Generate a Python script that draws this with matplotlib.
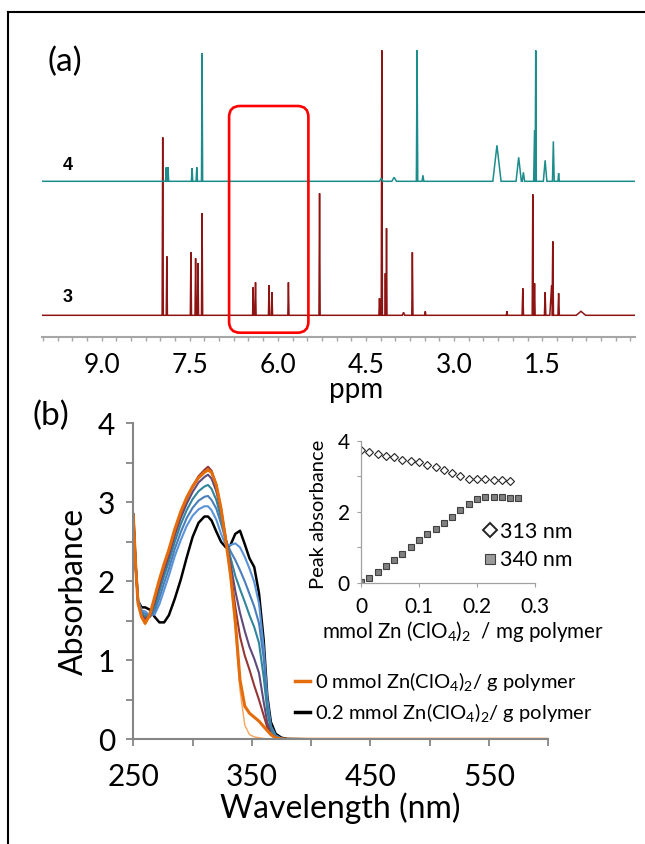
import matplotlib
matplotlib.use("Agg")
import matplotlib.pyplot as plt
from matplotlib.lines import Line2D
from matplotlib.patches import FancyBboxPatch
from matplotlib.ticker import MultipleLocator, FixedLocator
from matplotlib.transforms import IdentityTransform

plt.rcParams['font.family'] = ['Lato', 'DejaVu Sans']
plt.rcParams['mathtext.fontset'] = 'custom'
plt.rcParams['mathtext.rm'] = 'Lato'
plt.rcParams['mathtext.it'] = 'Lato:italic'
plt.rcParams['mathtext.bf'] = 'Lato:bold'

# ---------------- (a) 1H NMR peak lists ----------------
ppm_ticks = [9.0, 7.5, 6.0, 4.5, 3.0, 1.5]
ppm_tick_labels = ["9.0", "7.5", "6.0", "4.5", "3.0", "1.5"]

# compound 3 (dark red)
peaks3_ppm = [7.96, 7.89, 7.48, 7.40, 7.36, 7.29, 6.42, 6.38, 6.15, 6.10, 5.82, 5.29,
              4.27, 4.23, 4.17, 4.15, 3.86, 3.71, 3.49, 2.10, 1.83, 1.66, 1.63, 1.45,
              1.34, 1.32, 1.22, 0.84]
peaks3_int = [178, 59, 63, 57, 52, 102, 28, 33, 30, 23, 33, 122,
              17, 265, 42, 87, 3, 63, 4, 4, 27, 121, 32, 23,
              30, 74, 22, 4]
peaks3_w = [0.01, 0.01, 0.01, 0.01, 0.01, 0.01, 0.01, 0.01, 0.01, 0.01, 0.01, 0.01,
            0.01, 0.01, 0.008, 0.008, 0.02, 0.01, 0.01, 0.01, 0.012, 0.01, 0.01, 0.012,
            0.03, 0.012, 0.012, 0.08]

# compound 4 (teal)
peaks4_ppm = [7.90, 7.87, 7.46, 7.38, 7.29, 4.24, 4.02, 3.63, 3.53, 2.27, 1.90, 1.82,
              1.63, 1.61, 1.45, 1.31, 1.22]
peaks4_int = [14, 14, 13, 14, 128, 3, 4, 131, 6, 36, 24, 9,
              51, 131, 21, 40, 8]
peaks4_w = [0.012, 0.012, 0.012, 0.012, 0.01, 0.03, 0.04, 0.012, 0.015, 0.07, 0.045, 0.02,
            0.015, 0.01, 0.03, 0.015, 0.012]

# ---------------- (b) UV-vis spectra ----------------
wavelength = [250, 252, 254, 257, 260, 264, 268, 272, 276, 280, 285, 290, 295, 300, 305,
              310, 313, 316, 320, 324, 328, 332, 336, 340, 344, 348, 352, 356, 360, 363,
              366, 370, 375, 380, 400, 450, 500, 550, 600]
abs_lorange = [2.83, 2.2, 1.70, 1.53, 1.45, 1.56, 1.78, 2.0, 2.2, 2.38, 2.64, 2.86, 3.04, 3.19, 3.30,
               3.37, 3.40, 3.37, 3.2, 2.9, 2.5, 2.05, 1.38, 0.62, 0.18, 0.06, 0.03, 0.02, 0.01, 0.005,
               0, 0, 0, 0, 0, 0, 0, 0, 0]
abs_orange = [2.83, 2.2, 1.72, 1.55, 1.47, 1.58, 1.80, 2.02, 2.22, 2.40, 2.66, 2.88, 3.06, 3.20, 3.31,
              3.38, 3.41, 3.38, 3.22, 2.92, 2.52, 2.08, 1.50, 0.75, 0.42, 0.33, 0.28, 0.23, 0.16, 0.11,
              0.06, 0.02, 0.005, 0, 0, 0, 0, 0, 0]
abs_darkred = [2.83, 2.2, 1.73, 1.56, 1.50, 1.57, 1.77, 1.98, 2.18, 2.36, 2.62, 2.85, 3.04, 3.20, 3.33,
               3.41, 3.45, 3.40, 3.22, 2.92, 2.54, 2.14, 1.68, 1.30, 1.06, 0.88, 0.68, 0.50, 0.30, 0.15,
               0.06, 0.015, 0, 0, 0, 0, 0, 0, 0]
abs_purple = [2.83, 2.2, 1.74, 1.57, 1.53, 1.56, 1.73, 1.94, 2.14, 2.32, 2.58, 2.80, 2.98, 3.13, 3.25,
              3.32, 3.35, 3.30, 3.14, 2.88, 2.54, 2.22, 1.88, 1.60, 1.37, 1.17, 1.02, 0.84, 0.47, 0.21,
              0.07, 0.02, 0, 0, 0, 0, 0, 0, 0]
abs_teal = [2.83, 2.2, 1.75, 1.59, 1.56, 1.55, 1.67, 1.87, 2.07, 2.25, 2.50, 2.72, 2.90, 3.04, 3.14,
            3.20, 3.22, 3.17, 3.03, 2.80, 2.53, 2.30, 2.07, 1.90, 1.74, 1.57, 1.42, 1.22, 0.78, 0.36,
            0.12, 0.03, 0.005, 0, 0, 0, 0, 0, 0]
abs_blue = [2.83, 2.2, 1.76, 1.61, 1.59, 1.55, 1.62, 1.79, 1.98, 2.16, 2.41, 2.62, 2.80, 2.93, 3.02,
            3.07, 3.08, 3.03, 2.92, 2.73, 2.52, 2.38, 2.27, 2.14, 2.0, 1.84, 1.68, 1.47, 1.02, 0.46,
            0.15, 0.04, 0.01, 0, 0, 0, 0, 0, 0]
abs_lblue = [2.83, 2.2, 1.77, 1.63, 1.62, 1.57, 1.58, 1.71, 1.89, 2.07, 2.32, 2.52, 2.70, 2.83, 2.91,
             2.95, 2.95, 2.90, 2.78, 2.60, 2.46, 2.46, 2.48, 2.43, 2.31, 2.16, 1.99, 1.72, 1.16, 0.52,
             0.17, 0.05, 0.01, 0, 0, 0, 0, 0, 0]
abs_black = [2.85, 2.2, 1.75, 1.67, 1.67, 1.64, 1.55, 1.48, 1.48, 1.57, 1.78, 2.02, 2.30, 2.56, 2.74,
             2.82, 2.82, 2.77, 2.63, 2.50, 2.43, 2.46, 2.60, 2.64, 2.47, 2.29, 2.18, 1.85, 1.25, 0.55,
             0.22, 0.07, 0.02, 0.005, 0, 0, 0, 0, 0]
uv_legend_labels = [r"0 mmol Zn(ClO$_4$)$_2$/ g polymer", r"0.2 mmol Zn(ClO$_4$)$_2$/ g polymer"]

# ---------------- inset: peak absorbance ----------------
zn_313 = [0, 0.0143, 0.0286, 0.0429, 0.0571, 0.0714, 0.0857, 0.1, 0.1143, 0.1286,
          0.1429, 0.1571, 0.1714, 0.1857, 0.2, 0.2143, 0.2286, 0.2429, 0.2571]
peak_313 = [3.74, 3.69, 3.63, 3.58, 3.54, 3.45, 3.42, 3.39, 3.31, 3.25,
            3.18, 3.08, 3.00, 2.93, 2.92, 2.91, 2.90, 2.88, 2.86]
zn_340 = [0, 0.0143, 0.0286, 0.0429, 0.0571, 0.0714, 0.0857, 0.1, 0.1143, 0.1286,
          0.1429, 0.1571, 0.1714, 0.1857, 0.2, 0.2143, 0.2286, 0.2429, 0.2571, 0.2714]
peak_340 = [0.03, 0.14, 0.30, 0.47, 0.65, 0.82, 1.00, 1.19, 1.36, 1.52,
            1.69, 1.86, 2.06, 2.23, 2.35, 2.41, 2.41, 2.41, 2.39, 2.38]
inset_legend = ["313 nm", "340 nm"]

W, H = 645, 844
fig = plt.figure(figsize=(W / 100, H / 100), dpi=100)


def fx(px):
    return px / W


def fy(py):
    return 1 - py / H


def stick_trace(pos, inten, wid, base, lo, hi):
    order = sorted(range(len(pos)), key=lambda i: pos[i])
    xs, ys = [lo], [base]
    for i in order:
        xs += [pos[i] - wid[i], pos[i], pos[i] + wid[i]]
        ys += [base, base + inten[i], base]
    xs.append(hi)
    ys.append(base)
    return xs, ys


# ---------------- panel (a) ----------------
ax1 = fig.add_axes([fx(41.7), fy(337.3), (635 - 41.7) / W, 300 / H])
ax1.set_xlim(10.02, -0.08)
ax1.set_ylim(0, 300)
base3, base4 = 22, 156
x3, y3 = stick_trace(peaks3_ppm, peaks3_int, peaks3_w, base3, -0.08, 10.02)
x4, y4 = stick_trace(peaks4_ppm, peaks4_int, peaks4_w, base4, -0.08, 10.02)
ax1.plot(x3, y3, color="#8e1414", lw=1.1, solid_joinstyle="miter")
ax1.plot(x4, y4, color="#1c8c8c", lw=1.1, solid_joinstyle="miter")
for s in ["left", "right", "top"]:
    ax1.spines[s].set_visible(False)
ax1.spines["bottom"].set_color("#a6a6a6")
ax1.spines["bottom"].set_linewidth(1.5)
ax1.set_yticks([])
ax1.set_xticks(ppm_ticks)
ax1.set_xticklabels(ppm_tick_labels)
ax1.xaxis.set_minor_locator(MultipleLocator(0.25))
ax1.tick_params(axis="x", which="both", direction="out", length=3, width=1,
                color="#a6a6a6", labelsize=19, pad=8)
ax1.patch.set_alpha(0)

fig.text(fx(356), fy(398), "ppm", fontsize=20, ha="center", va="baseline")
fig.text(fx(65), fy(62), "(a)", fontsize=24, ha="center", va="center")
fig.text(fx(68), fy(165), "4", fontsize=13, fontweight="bold", family="Liberation Sans",
         ha="center", va="center")
fig.text(fx(68), fy(298), "3", fontsize=13, fontweight="bold", family="Liberation Sans",
         ha="center", va="center")

# red highlight box (in data coordinates of panel a)
box_ppm = (6.83, 5.48)
box_y = (4.6, 231.3)
(bx0, by0) = ax1.transData.transform((box_ppm[0], box_y[0]))
(bx1, by1) = ax1.transData.transform((box_ppm[1], box_y[1]))
box = FancyBboxPatch((min(bx0, bx1), min(by0, by1)), abs(bx1 - bx0), abs(by1 - by0),
                     boxstyle="round,pad=0,rounding_size=11", fill=False,
                     edgecolor="#ff0000", lw=1.9, transform=IdentityTransform())
fig.add_artist(box)

# ---------------- panel (b) ----------------
ax2 = fig.add_axes([fx(133.3), fy(739.3), 415 / W, (739.3 - 423.3) / H])
ax2.set_xlim(250, 600)
ax2.set_ylim(0, 4)
curves = [
    (abs_lorange, "#f9a45c", 1.0),
    (abs_black, "#000000", 1.8),
    (abs_lblue, "#5b93d8", 1.5),
    (abs_blue, "#4a7ebb", 1.5),
    (abs_teal, "#31859c", 1.5),
    (abs_purple, "#604a7b", 1.5),
    (abs_darkred, "#953735", 1.5),
    (abs_orange, "#e46c0a", 2.2),
]
for data, col, lw in curves:
    ax2.plot(wavelength, data, color=col, lw=lw)
for s in ["right", "top"]:
    ax2.spines[s].set_visible(False)
for s in ["left", "bottom"]:
    ax2.spines[s].set_color("#868686")
    ax2.spines[s].set_linewidth(1.5)
ax2.xaxis.set_major_locator(FixedLocator([250, 350, 450, 550]))
ax2.xaxis.set_minor_locator(FixedLocator([300, 400, 500, 600]))
ax2.yaxis.set_major_locator(MultipleLocator(1))
ax2.yaxis.set_minor_locator(MultipleLocator(0.5))
ax2.tick_params(which="both", direction="out", length=5, width=1.3, color="#868686")
ax2.tick_params(axis="y", which="major", labelsize=21.5, pad=8)
ax2.tick_params(axis="x", which="major", labelsize=21.5, pad=12)
ax2.patch.set_alpha(0)

fig.text(fx(74), fy(591), "Absorbance", fontsize=23, rotation=90, ha="center", va="center")
fig.text(fx(340), fy(818), "Wavelength (nm)", fontsize=23, ha="center", va="baseline")
fig.text(fx(51), fy(416), "(b)", fontsize=24, ha="center", va="center")

leg_h = [Line2D([], [], color="#e46c0a", lw=2.5), Line2D([], [], color="#000000", lw=2.5)]
fig.legend(leg_h, uv_legend_labels, loc="upper left",
           bbox_to_anchor=(fx(295), fy(670)), bbox_transform=fig.transFigure,
           frameon=False, fontsize=14.5, handlelength=0.75, handletextpad=0.25,
           borderpad=0, borderaxespad=0, labelspacing=0.42)

# ---------------- inset ----------------
ax3 = fig.add_axes([fx(361), fy(582.7), (535 - 361) / W, (582.7 - 440.7) / H])
ax3.set_xlim(0, 0.3)
ax3.set_ylim(0, 4)
ax3.plot(zn_313, peak_313, ls="none", marker="D", ms=3.8, mfc="white", mec="#222222", mew=0.8)
ax3.plot(zn_340, peak_340, ls="none", marker="s", ms=5, mfc="#808080", mec="#404040", mew=0.8)
for s in ["right", "top"]:
    ax3.spines[s].set_visible(False)
for s in ["left", "bottom"]:
    ax3.spines[s].set_color("#a0a0a0")
    ax3.spines[s].set_linewidth(0.9)
ax3.set_xticks([0, 0.1, 0.2, 0.3])
ax3.set_xticklabels(["0", "0.1", "0.2", "0.3"])
ax3.set_yticks([0, 2, 4])
ax3.yaxis.set_minor_locator(FixedLocator([1, 3]))
ax3.tick_params(which="both", direction="out", length=3, width=0.8, color="#a0a0a0")
ax3.tick_params(axis="y", labelsize=15, pad=5)
ax3.tick_params(axis="x", labelsize=15, pad=7)
ax3.patch.set_alpha(0)

fig.text(fx(318), fy(514), "Peak absorbance", fontsize=14.5, rotation=90, ha="center", va="center")
fig.text(fx(463), fy(631), r"mmol Zn (ClO$_4$)$_2$  / mg polymer", fontsize=14.8, ha="center", va="center")

in_h = [Line2D([], [], ls="none", marker="D", ms=7.5, mfc="white", mec="#222222", mew=1.4),
        Line2D([], [], ls="none", marker="s", ms=6.5, mfc="#9a9a9a", mec="#404040", mew=0.8)]
fig.legend(in_h, inset_legend, loc="upper left",
           bbox_to_anchor=(fx(484), fy(522)), bbox_transform=fig.transFigure,
           frameon=False, fontsize=15.5, handlelength=0.6, handletextpad=0.15,
           borderpad=0, borderaxespad=0, labelspacing=0.38)

# frame lines
fig.add_artist(Line2D([fx(8), fx(8)], [0, fy(12)], transform=fig.transFigure, color="black", lw=1.5))
fig.add_artist(Line2D([fx(8), 1], [fy(12), fy(12)], transform=fig.transFigure, color="black", lw=1.5))

fig.savefig("out.png", dpi=100)
